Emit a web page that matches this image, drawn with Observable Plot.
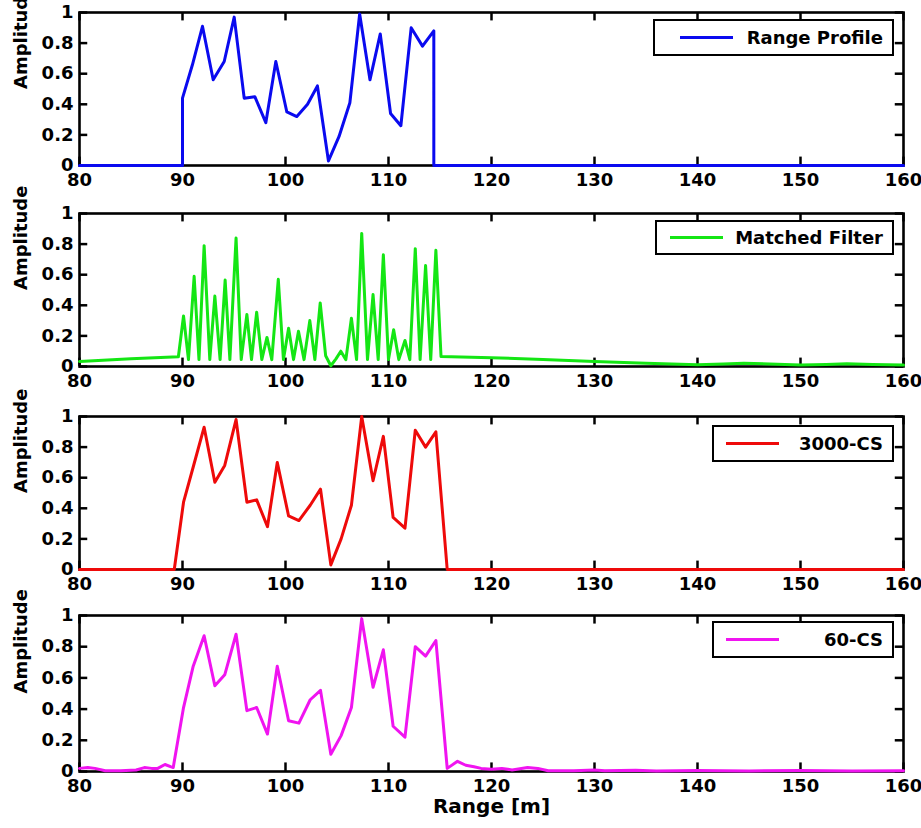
<!DOCTYPE html>
<html><head><meta charset="utf-8">
<script src="https://cdn.jsdelivr.net/npm/d3@7"></script>
<script src="https://cdn.jsdelivr.net/npm/@observablehq/plot@0.6"></script>
<style>
body{margin:0;background:#fff;}
#chart{position:relative;width:921px;height:828px;}
.panel{position:relative;height:auto;}
.panel svg{display:block;}
.legend{position:absolute;box-sizing:border-box;border:2.5px solid #000;background:#fff;display:flex;align-items:center;font:bold 18px "DejaVu Sans";color:#000;}
.legend .swatch{height:3px;width:53px;flex:none;}
.legend .lab{flex:1;text-align:right;padding-right:9px;white-space:nowrap;}
</style></head><body><div id="chart"></div><script>
// ---- data ----
const xTicks = [80, 90, 100, 110, 120, 130, 140, 150, 160];
const yTicks = [0, 0.2, 0.4, 0.6, 0.8, 1];
const seriesNames = ["Range Profile", "Matched Filter", "3000-CS", "60-CS"];

const rangeProfileX = [80, 90, 90, 90.97, 91.94, 92.98, 94.05, 95.02, 95.99, 97.02, 98.09, 99.06, 100.13, 101.1, 102.14, 103.1, 104.17, 105.2, 106.25, 107.2, 108.2, 109.2, 110.2, 111.2, 112.2, 113.3, 114.4, 114.4, 160];
const rangeProfileY = [0, 0, 0.44, 0.66, 0.91, 0.56, 0.68, 0.97, 0.44, 0.45, 0.28, 0.68, 0.35, 0.32, 0.40, 0.52, 0.03, 0.19, 0.41, 0.99, 0.56, 0.86, 0.34, 0.26, 0.90, 0.78, 0.88, 0, 0];

const matchedX = [80, 85, 89.6, 90.1, 90.58, 91.13, 91.6, 92.1, 92.65, 93.14, 93.65, 94.14, 94.6, 95.2, 95.7, 96.25, 96.7, 97.2, 97.7, 98.2, 98.67, 99.3, 99.8, 100.3, 100.78, 101.26, 101.8, 102.36, 102.85, 103.37, 103.9, 104.4, 104.9, 105.37, 105.86, 106.4, 106.9, 107.4, 107.96, 108.5, 109.0, 109.5, 110.0, 110.5, 111.0, 111.6, 112.07, 112.6, 113.07, 113.6, 114.1, 114.6, 115.1, 120, 125, 130, 135, 140, 142.5, 144.5, 147, 150, 152.5, 154.5, 157, 160];
const matchedY = [0.033, 0.05, 0.064, 0.33, 0.045, 0.59, 0.045, 0.79, 0.045, 0.46, 0.045, 0.565, 0.045, 0.84, 0.045, 0.34, 0.045, 0.355, 0.045, 0.19, 0.045, 0.57, 0.045, 0.25, 0.045, 0.23, 0.045, 0.30, 0.045, 0.415, 0.07, 0.005, 0.05, 0.10, 0.045, 0.315, 0.045, 0.87, 0.045, 0.47, 0.045, 0.73, 0.045, 0.24, 0.045, 0.17, 0.045, 0.77, 0.045, 0.66, 0.045, 0.76, 0.065, 0.058, 0.045, 0.033, 0.022, 0.011, 0.016, 0.022, 0.016, 0.009, 0.013, 0.018, 0.013, 0.009];

const cs3000X = [80, 89.2, 90.1, 91.04, 92.1, 93.14, 94.1, 95.2, 96.25, 97.2, 98.25, 99.2, 100.3, 101.3, 102.4, 103.4, 104.4, 105.4, 106.4, 107.4, 108.5, 109.5, 110.45, 111.6, 112.6, 113.6, 114.6, 115.7, 160];
const cs3000Y = [0, 0, 0.44, 0.67, 0.93, 0.57, 0.68, 0.98, 0.44, 0.455, 0.28, 0.70, 0.35, 0.32, 0.42, 0.525, 0.03, 0.20, 0.42, 1.0, 0.58, 0.87, 0.34, 0.27, 0.91, 0.80, 0.90, 0, 0];

const cs60X = [80, 80.8, 81.5, 82.5, 84, 85.5, 86.3, 87, 87.6, 88.3, 88.9, 89.1, 90.1, 91.04, 92.1, 93.14, 94.1, 95.2, 96.25, 97.2, 98.25, 99.2, 100.3, 101.3, 102.4, 103.4, 104.4, 105.4, 106.4, 107.4, 108.5, 109.5, 110.45, 111.6, 112.6, 113.6, 114.6, 115.7, 116.7, 117.5, 118.3, 119, 120, 121, 122, 123.5, 124.5, 125.5, 128, 130, 131, 134, 136, 140, 145, 150, 155, 160];
const cs60Y = [0.02, 0.025, 0.02, 0.005, 0.005, 0.01, 0.025, 0.02, 0.02, 0.045, 0.03, 0.026, 0.41, 0.675, 0.87, 0.55, 0.62, 0.88, 0.39, 0.41, 0.24, 0.675, 0.325, 0.31, 0.46, 0.52, 0.11, 0.23, 0.41, 0.98, 0.54, 0.78, 0.29, 0.22, 0.80, 0.74, 0.84, 0.02, 0.065, 0.04, 0.03, 0.02, 0.015, 0.02, 0.01, 0.025, 0.02, 0.005, 0.005, 0.01, 0.005, 0.008, 0.003, 0.006, 0.004, 0.006, 0.004, 0.005];

// ---- styling / layout (not data) ----
const colors = ["#0a0aef", "#14e614", "#ee0a0a", "#f014f0"];
const layout = [
  {mt: 12, mb: 36, h: 201, leg: {left: 653, top: 19, width: 241, height: 37, line: 25}},
  {mt: 12, mb: 36, h: 201, leg: {left: 655, top: 19, width: 239, height: 35, line: 13}},
  {mt: 14, mb: 34, h: 201, leg: {left: 712, top: 23, width: 182, height: 37, line: 12}},
  {mt: 12, mb: 57, h: 225, leg: {left: 712, top: 18, width: 182, height: 37, line: 12}}
];

const xs = [rangeProfileX, matchedX, cs3000X, cs60X];
const ys = [rangeProfileY, matchedY, cs3000Y, cs60Y];

const chart = document.getElementById("chart");
xs.forEach((X, k) => {
  const rows = X.map((x, i) => ({x, y: ys[k][i]}));
  if (X.length !== ys[k].length) console.error("length mismatch", k, X.length, ys[k].length);
  const L = layout[k];
  const marks = [
    Plot.axisX({ticks: xTicks, tickSize: 0, tickPadding: 8, label: null}),
    Plot.axisY({ticks: yTicks, tickSize: 0, tickPadding: 6, label: null, tickFormat: d => String(d)}),
    Plot.ruleX(xTicks, {x: d => d, y1: 0, y2: 0.055, stroke: "#000", strokeWidth: 2.5}),
    Plot.ruleX(xTicks, {x: d => d, y1: 0.945, y2: 1, stroke: "#000", strokeWidth: 2.5}),
    Plot.ruleY(yTicks, {y: d => d, x1: 80, x2: 80.8, stroke: "#000", strokeWidth: 2.5}),
    Plot.ruleY(yTicks, {y: d => d, x1: 159.2, x2: 160, stroke: "#000", strokeWidth: 2.5}),
    Plot.frame({stroke: "#000", strokeWidth: 2.6}),
    Plot.line(rows, {x: "x", y: "y", stroke: colors[k], strokeWidth: 3}),
    Plot.text(["Amplitude"], {frameAnchor: "left", rotate: -90, dx: -58, text: d => d, fontSize: 18, fontWeight: "bold"})
  ];
  if (k === 3) marks.push(Plot.text(["Range [m]"], {frameAnchor: "bottom", dy: 41, text: d => d, fontSize: 20, fontWeight: "bold"}));
  const svg = Plot.plot({
    width: 921, height: L.h,
    marginLeft: 79, marginRight: 18, marginTop: L.mt, marginBottom: L.mb,
    style: {fontFamily: "DejaVu Sans", fontWeight: "bold", fontSize: "18px", color: "#000", background: "transparent", overflow: "visible"},
    x: {domain: [80, 160]},
    y: {domain: [0, 1]},
    marks
  });
  const panel = document.createElement("div");
  panel.className = "panel";
  panel.appendChild(svg);
  const leg = document.createElement("div");
  leg.className = "legend";
  Object.assign(leg.style, {left: L.leg.left + "px", top: L.leg.top + "px", width: L.leg.width + "px", height: L.leg.height + "px"});
  const sw = document.createElement("div");
  sw.className = "swatch";
  sw.style.background = colors[k];
  sw.style.marginLeft = L.leg.line + "px";
  const lab = document.createElement("div");
  lab.className = "lab";
  lab.textContent = seriesNames[k];
  leg.appendChild(sw); leg.appendChild(lab);
  panel.appendChild(leg);
  chart.appendChild(panel);
});
</script></body></html>
